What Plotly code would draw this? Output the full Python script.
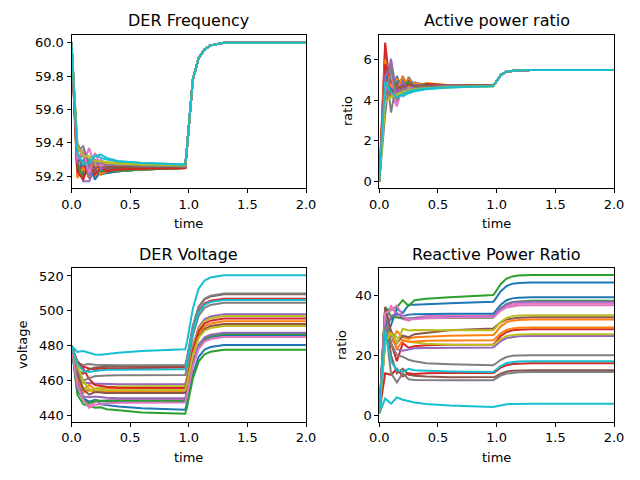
import plotly.graph_objects as go

# ---------------- data ----------------
t_early = [0.0, 0.05, 0.1, 0.15, 0.2, 0.25, 0.3, 0.4, 0.6, 0.97]
t_late = [0.985, 1.035, 1.085, 1.135, 1.185, 1.3, 2.0]
x_ticks = [0.0, 0.5, 1.0, 1.5, 2.0]

colors = ["#1f77b4", "#ff7f0e", "#2ca02c", "#d62728", "#9467bd",
          "#8c564b", "#e377c2", "#7f7f7f", "#bcbd22", "#17becf"]

freq_early = [
    [60, 59.22, 59.30, 59.19, 59.24, 59.21, 59.22, 59.23, 59.24, 59.25],
    [60, 59.28, 59.18, 59.30, 59.19, 59.24, 59.22, 59.235, 59.24, 59.25],
    [60, 59.25, 59.21, 59.24, 59.22, 59.23, 59.225, 59.23, 59.24, 59.25],
    [60, 59.20, 59.28, 59.19, 59.26, 59.22, 59.24, 59.24, 59.245, 59.25],
    [60, 59.30, 59.17, 59.17, 59.25, 59.22, 59.24, 59.24, 59.245, 59.255],
    [60, 59.26, 59.23, 59.25, 59.24, 59.245, 59.245, 59.25, 59.25, 59.255],
    [60, 59.33, 59.27, 59.37, 59.26, 59.30, 59.27, 59.27, 59.265, 59.26],
    [60, 59.40, 59.32, 59.25, 59.30, 59.27, 59.28, 59.275, 59.27, 59.26],
    [60, 59.36, 59.33, 59.30, 59.28, 59.29, 59.285, 59.28, 59.27, 59.265],
    [60, 59.32, 59.28, 59.30, 59.33, 59.31, 59.30, 59.29, 59.28, 59.27],
    [60, 59.24, 59.21, 59.27, 59.18, 59.23, 59.22, 59.23, 59.24, 59.25],
    [60, 59.19, 59.25, 59.20, 59.27, 59.21, 59.23, 59.235, 59.24, 59.25],
    [60, 59.27, 59.19, 59.26, 59.22, 59.235, 59.23, 59.235, 59.24, 59.25],
    [60, 59.23, 59.18, 59.29, 59.21, 59.25, 59.23, 59.24, 59.245, 59.25],
    [60, 59.28, 59.34, 59.20, 59.30, 59.24, 59.27, 59.26, 59.255, 59.255],
    [60, 59.31, 59.26, 59.28, 59.25, 59.26, 59.255, 59.255, 59.255, 59.255],
    [60, 59.30, 59.36, 59.22, 59.34, 59.26, 59.28, 59.27, 59.265, 59.26],
    [60, 59.35, 59.38, 59.27, 59.29, 59.28, 59.275, 59.27, 59.265, 59.26],
    [60, 59.38, 59.32, 59.32, 59.29, 59.29, 59.28, 59.275, 59.27, 59.265],
    [60, 59.34, 59.27, 59.28, 59.32, 59.33, 59.31, 59.29, 59.28, 59.27],
]
freq_late = [59.37, 59.78, 59.91, 59.96, 59.985, 60.0, 60.0]

active_early = [
    [0, 5.0, 4.2, 5.2, 4.4, 5.15, 4.7, 4.75, 4.72, 4.72],
    [0, 6.45, 4.3, 5.1, 4.5, 5.1, 4.6, 4.85, 4.75, 4.73],
    [0, 5.3, 4.6, 4.3, 5.05, 4.6, 4.85, 4.78, 4.74, 4.72],
    [0, 6.85, 4.2, 4.9, 4.4, 4.95, 4.6, 4.8, 4.74, 4.72],
    [0, 4.5, 6.05, 4.2, 5.2, 4.5, 4.9, 4.7, 4.73, 4.72],
    [0, 4.8, 5.4, 4.4, 4.9, 4.6, 4.8, 4.75, 4.73, 4.72],
    [0, 5.6, 4.4, 3.7, 4.8, 4.4, 4.65, 4.68, 4.70, 4.71],
    [0, 5.9, 3.4, 5.0, 4.3, 4.75, 4.6, 4.7, 4.71, 4.71],
    [0, 4.0, 4.2, 4.25, 4.35, 4.45, 4.5, 4.58, 4.65, 4.70],
    [0, 4.6, 4.85, 4.5, 4.2, 4.35, 4.45, 4.55, 4.63, 4.70],
    [0, 5.5, 4.5, 4.8, 5.1, 4.5, 4.8, 4.73, 4.72, 4.72],
    [0, 6.0, 4.7, 4.5, 5.2, 4.6, 4.85, 4.75, 4.73, 4.72],
    [0, 4.7, 5.0, 4.4, 4.8, 4.9, 4.7, 4.75, 4.73, 4.72],
    [0, 5.8, 5.0, 4.5, 4.7, 4.8, 4.7, 4.74, 4.73, 4.72],
    [0, 5.2, 5.6, 4.3, 4.9, 4.55, 4.75, 4.72, 4.72, 4.72],
    [0, 4.2, 5.1, 4.7, 4.6, 4.8, 4.7, 4.72, 4.72, 4.72],
    [0, 4.4, 5.3, 3.9, 4.5, 4.6, 4.6, 4.65, 4.69, 4.71],
    [0, 3.3, 5.7, 4.0, 4.6, 4.5, 4.62, 4.66, 4.69, 4.71],
    [0, 3.9, 4.15, 4.3, 4.4, 4.5, 4.55, 4.6, 4.66, 4.70],
    [0, 4.9, 4.4, 4.15, 4.3, 4.45, 4.5, 4.58, 4.64, 4.70],
]
active_late = [4.82, 5.25, 5.42, 5.47, 5.49, 5.5, 5.5]

volt_early = [
    [480, 456, 449, 447, 448.5, 446.5, 446, 445.2, 444.2, 443.3],
    [480, 462, 455, 457.5, 455, 456, 455.5, 455.6, 455.5, 455.5],
    [480, 452, 446.5, 445.5, 444.5, 444.8, 443.6, 443, 441.8, 441.0],
    [480, 471, 468, 467, 466.5, 467, 467, 467.2, 467.3, 467.5],
    [480, 463, 459, 458.5, 458.3, 458.2, 458.1, 458, 458, 458],
    [480, 466, 464, 466.5, 467.5, 467.8, 468, 468.2, 468.3, 468.3],
    [480, 458, 450, 445, 447.5, 448, 448.8, 449.2, 449.4, 449.5],
    [480, 470, 469, 469.5, 469.2, 469, 468.9, 468.8, 468.8, 468.8],
    [480, 468, 456, 454, 455.5, 456, 456.4, 456.7, 456.9, 457.0],
    [480, 476.5, 477, 476, 475, 474.8, 475.3, 476, 477, 478],
    [480, 454, 450, 448, 449, 448.2, 448.1, 448, 448, 448],
    [480, 460, 453, 455, 453.5, 453.8, 453.5, 453.5, 453.5, 453.5],
    [480, 455, 449, 447, 448.5, 448.5, 448.5, 448.5, 448.5, 448.5],
    [480, 471, 467, 461, 457.5, 457, 456.5, 456, 455.9, 455.8],
    [480, 459, 451, 450.5, 451, 450.5, 450.2, 450, 450, 450],
    [480, 464, 455, 452, 453.5, 453.2, 453, 453, 453, 453],
    [480, 457, 449, 444.5, 446, 446.5, 447, 447.3, 447.5, 447.5],
    [480, 466, 460, 461.5, 462.5, 462.8, 463, 463.1, 463.2, 463.3],
    [480, 469, 460, 455, 454.5, 454.8, 454.5, 454.5, 454.5, 454.5],
    [480, 470, 465.5, 465, 465.5, 466, 466.2, 466.3, 466.4, 466.5],
]
volt_late = [
    [447.0, 463.7, 473.7, 477.8, 479.3, 480.4, 480.4],
    [459.4, 476.7, 487.1, 491.3, 492.8, 494.0, 494.0],
    [444.7, 461.2, 471.1, 475.1, 476.6, 477.7, 477.7],
    [471.5, 489.2, 499.9, 504.2, 505.8, 507.0, 507.0],
    [462.0, 480.0, 490.8, 495.2, 496.8, 498.0, 498.0],
    [472.4, 491.0, 502.1, 506.6, 508.3, 509.5, 509.5],
    [453.1, 469.4, 479.2, 483.2, 484.6, 485.7, 485.7],
    [472.9, 491.4, 502.5, 507.0, 508.7, 509.9, 509.9],
    [461.0, 479.0, 489.8, 494.2, 495.8, 497.0, 497.0],
    [482.2, 501.3, 512.8, 517.4, 519.1, 520.4, 520.4],
    [451.8, 469.0, 479.3, 483.5, 485.1, 486.2, 486.2],
    [457.3, 474.6, 484.9, 489.1, 490.7, 491.8, 491.8],
    [452.3, 469.5, 479.8, 484.0, 485.6, 486.7, 486.7],
    [459.8, 477.7, 488.4, 492.8, 494.4, 495.6, 495.6],
    [453.7, 470.6, 480.7, 484.8, 486.3, 487.4, 487.4],
    [457.0, 474.7, 485.4, 489.7, 491.3, 492.5, 492.5],
    [451.3, 468.1, 478.3, 482.4, 483.9, 485.0, 485.0],
    [467.4, 486.0, 497.2, 501.7, 503.4, 504.6, 504.6],
    [458.2, 474.7, 484.7, 488.7, 490.2, 491.3, 491.3],
    [470.5, 488.4, 499.1, 503.5, 505.1, 506.3, 506.3],
]

react_early = [
    [1, 25, 30, 35.5, 34, 36.8, 36.8, 37, 37.3, 37.8],
    [1, 33, 24, 28, 26, 25.5, 26, 26.2, 26.5, 26.7],
    [1, 35.5, 35, 36, 38.3, 36.4, 38.3, 38.8, 39.3, 40.0],
    [1, 26, 24, 18, 24, 22.5, 23, 23.3, 23.5, 23.6],
    [1, 24, 27, 22, 21.5, 22, 22.3, 22.4, 22.5, 22.6],
    [1, 35, 20, 14, 15.5, 13.5, 13.2, 12.9, 12.7, 12.6],
    [1, 30, 36.5, 33, 32, 31.5, 32.5, 33, 33.2, 33.3],
    [1, 34, 24, 20, 19.5, 18.5, 18, 17.3, 17, 16.7],
    [1, 27, 27.5, 26, 25, 24.5, 24.2, 23.8, 23.5, 23.4],
    [0.5, 5.6, 3.9, 6.0, 5.2, 4.7, 4.3, 3.8, 3.3, 2.8],
    [1, 30, 32, 33.8, 33, 33.5, 33.6, 33.7, 33.8, 33.8],
    [1, 26, 28, 22, 25, 24.5, 24.6, 24.8, 24.9, 25.0],
    [1, 36, 33, 32.5, 32.3, 32.3, 32.4, 32.4, 32.5, 32.5],
    [1, 14, 13.5, 15.5, 13, 14, 13.8, 14, 14.1, 14.1],
    [1, 28, 33, 34, 32.5, 32, 32.3, 32.5, 32.7, 32.8],
    [1, 36, 28, 24, 26.5, 26, 27, 27.5, 28.3, 28.9],
    [1, 34, 35, 36.5, 33, 32, 32, 32.3, 32.5, 32.6],
    [1, 30, 14, 11, 14, 12, 11.8, 11.7, 11.7, 11.7],
    [1, 24, 27.5, 24, 28.8, 28.2, 28.4, 28.3, 28.3, 28.3],
    [1, 28, 18, 15, 14.5, 15.5, 15, 14.8, 14.6, 14.4],
]
react_late = [
    [38.4, 41.3, 43.0, 43.8, 44.0, 44.2, 44.2],
    [27.2, 29.6, 31.0, 31.5, 31.7, 31.9, 31.9],
    [40.7, 43.7, 45.5, 46.2, 46.5, 46.7, 46.7],
    [24.1, 26.4, 27.7, 28.3, 28.5, 28.6, 28.6],
    [23.0, 24.7, 25.7, 26.1, 26.3, 26.4, 26.4],
    [12.8, 13.9, 14.6, 14.8, 14.9, 15.0, 15.0],
    [33.7, 35.4, 36.5, 36.9, 37.1, 37.2, 37.2],
    [17.0, 18.5, 19.4, 19.8, 19.9, 20.0, 20.0],
    [23.8, 25.4, 26.4, 26.7, 26.9, 27.0, 27.0],
    [2.9, 3.4, 3.7, 3.8, 3.9, 3.9, 3.9],
    [34.4, 36.8, 38.3, 38.9, 39.1, 39.3, 39.3],
    [25.4, 27.3, 28.4, 28.9, 29.1, 29.2, 29.2],
    [33.1, 35.6, 37.1, 37.7, 37.9, 38.1, 38.1],
    [14.4, 15.9, 16.7, 17.1, 17.2, 17.3, 17.3],
    [33.3, 35.6, 36.9, 37.5, 37.7, 37.8, 37.8],
    [29.3, 30.9, 31.9, 32.3, 32.5, 32.6, 32.6],
    [33.0, 34.8, 35.9, 36.3, 36.5, 36.6, 36.6],
    [12.0, 13.2, 13.9, 14.2, 14.3, 14.4, 14.4],
    [28.8, 31.1, 32.4, 33.0, 33.2, 33.3, 33.3],
    [14.8, 16.4, 17.4, 17.7, 17.9, 18.0, 18.0],
]

titles = ["DER Frequency", "Active power ratio", "DER Voltage", "Reactive Power Ratio"]
freq_ticks = [59.2, 59.4, 59.6, 59.8, 60.0]
active_ticks = [0, 2, 4, 6]
volt_ticks = [440, 460, 480, 500, 520]
react_ticks = [0, 20, 40]

# ---------------- figure ----------------
W, H = 640, 480
FONT = "DejaVu Sans"
times = t_early + t_late

fig = go.Figure()

panels = [
    ("x", "y", [e + freq_late for e in freq_early]),
    ("x2", "y2", [e + active_late for e in active_early]),
    ("x3", "y3", [e + l for e, l in zip(volt_early, volt_late)]),
    ("x4", "y4", [e + l for e, l in zip(react_early, react_late)]),
]
for xa, ya, series in panels:
    for i, ys in enumerate(series):
        fig.add_trace(go.Scatter(x=times, y=ys, mode="lines", xaxis=xa, yaxis=ya,
                                 line=dict(color=colors[i % 10], width=2),
                                 showlegend=False, hoverinfo="skip"))

def px_x(p):
    return p / W

def px_y(p):
    return 1 - p / H

dom_x_left = [px_x(71.5), px_x(306)]
dom_x_right = [px_x(379.3), px_x(614)]
dom_y_top = [px_y(188.3), px_y(34.5)]
dom_y_bot = [px_y(421.7), px_y(268.3)]

axis_common = dict(showline=True, mirror=True, linecolor="black", linewidth=1,
                   ticks="outside", ticklen=4, tickwidth=1, tickcolor="black",
                   showgrid=False, zeroline=False, automargin=False,
                   tickfont=dict(family=FONT, size=13, color="black"))

x_common = dict(axis_common, range=[0, 2], tickvals=x_ticks,
                ticktext=[f"{v:.1f}" for v in x_ticks])

fig.update_layout(
    template="none",
    width=W, height=H, margin=dict(l=0, r=0, t=0, b=0, autoexpand=False),
    plot_bgcolor="white", paper_bgcolor="white",
    xaxis=dict(x_common, domain=dom_x_left, anchor="y"),
    yaxis=dict(axis_common, domain=dom_y_top, anchor="x", range=[59.128, 60.05],
               tickvals=freq_ticks, ticktext=[f"{v:.1f}" for v in freq_ticks]),
    xaxis2=dict(x_common, domain=dom_x_right, anchor="y2"),
    yaxis2=dict(axis_common, domain=dom_y_top, anchor="x2", range=[-0.345, 7.25],
                tickvals=active_ticks, ticktext=[str(v) for v in active_ticks]),
    xaxis3=dict(x_common, domain=dom_x_left, anchor="y3"),
    yaxis3=dict(axis_common, domain=dom_y_bot, anchor="x3", range=[436.5, 524.4],
                tickvals=volt_ticks, ticktext=[str(v) for v in volt_ticks]),
    xaxis4=dict(x_common, domain=dom_x_right, anchor="y4"),
    yaxis4=dict(axis_common, domain=dom_y_bot, anchor="x4", range=[-2.1, 48.9],
                tickvals=react_ticks, ticktext=[str(v) for v in react_ticks]),
)

ann = []
title_pos = [((71.5 + 306) / 2, 21), ((379.3 + 614) / 2, 21),
             ((71.5 + 306) / 2, 254), ((379.3 + 614) / 2, 254)]
for txt, (cx, cy) in zip(titles, title_pos):
    ann.append(dict(text=txt, x=px_x(cx), y=px_y(cy), xref="paper", yref="paper",
                    xanchor="center", yanchor="middle", showarrow=False,
                    font=dict(family=FONT, size=16, color="black")))
for cx, cy in [((71.5 + 306) / 2, 223), ((379.3 + 614) / 2, 223),
               ((71.5 + 306) / 2, 457), ((379.3 + 614) / 2, 457)]:
    ann.append(dict(text="time", x=px_x(cx), y=px_y(cy), xref="paper", yref="paper",
                    xanchor="center", yanchor="middle", showarrow=False,
                    font=dict(family=FONT, size=13, color="black")))
for txt, cx, cy in [("ratio", 348, 111), ("voltage", 22, 345), ("ratio", 341, 345)]:
    ann.append(dict(text=txt, x=px_x(cx), y=px_y(cy), xref="paper", yref="paper",
                    xanchor="center", yanchor="middle", showarrow=False, textangle=-90,
                    font=dict(family=FONT, size=13, color="black")))
fig.update_layout(annotations=ann)

fig.write_html("out.html", config={"displayModeBar": False},
               post_script="document.body.style.margin='0';")
